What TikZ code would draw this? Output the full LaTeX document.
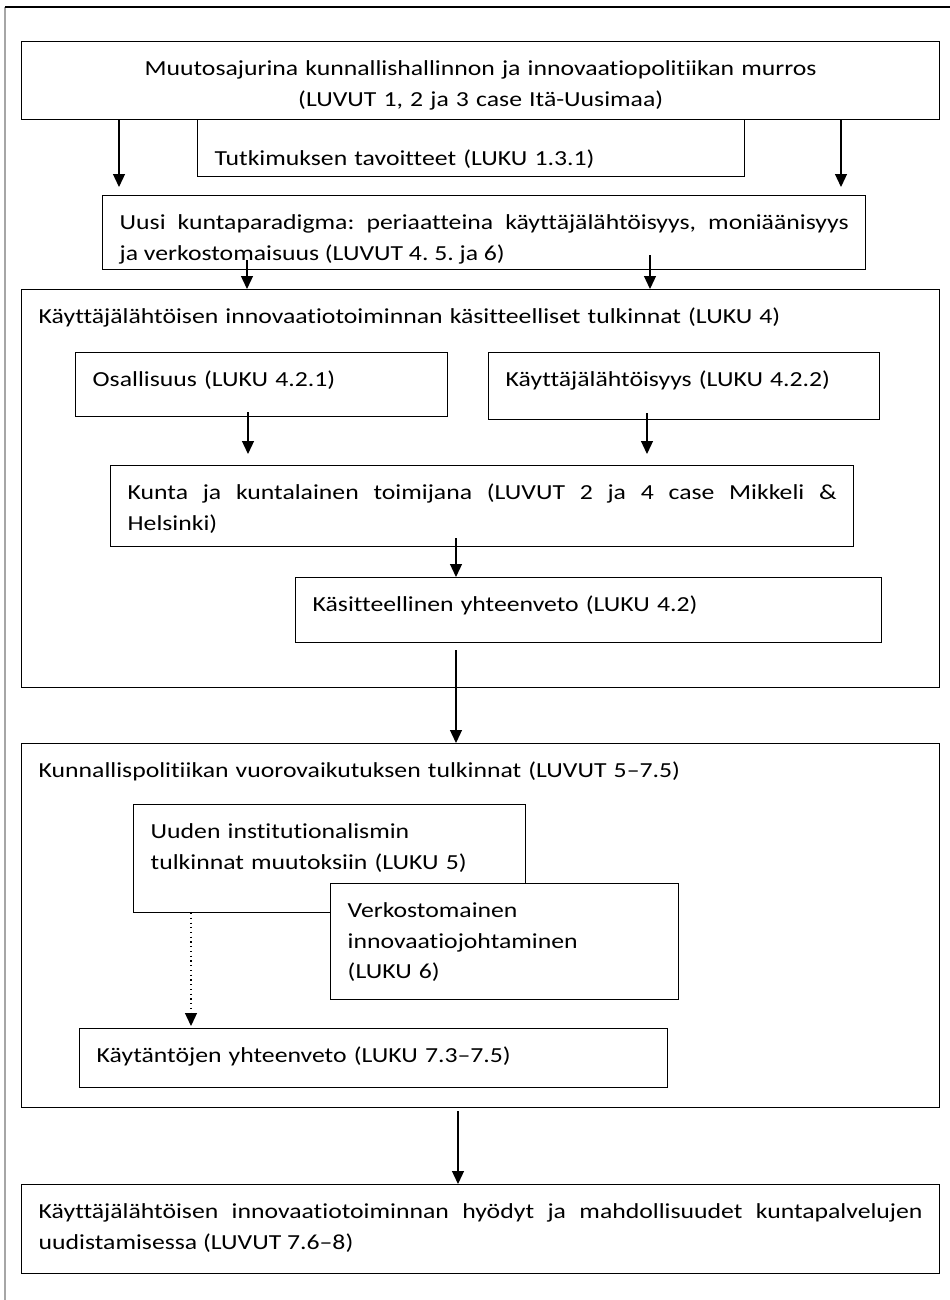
\documentclass[tikz,border=0pt]{standalone}
\usepackage{fontspec}
\setmainfont{Carlito}[FakeStretch=1.2,Ligatures=NoCommon]
\frenchspacing
\usetikzlibrary{arrows.meta}

\begin{document}
\begin{tikzpicture}[x=1cm,y=1cm,
  box/.style={draw,line width=0.8pt,fill=white,anchor=north west,inner xsep=0.34cm,inner ysep=0pt,text height=0.68cm,align=left,font=\fontsize{12.2}{17.4}\selectfont},
  arr/.style={line width=0.7pt,-{Triangle[width=0.24cm,length=0.26cm]}}]
\useasboundingbox (0,0) rectangle (19,-26);
\draw[gray!70,line width=0.6pt] (0.10,-0.14) -- (0.10,-26);
\draw[line width=0.8pt] (0.10,-0.14) -- (19,-0.14);
\node[box,align=center,text width=17.68cm,text depth=0.88cm] (murros) at (0.42,-0.82) {Muutosajurina kunnallishallinnon ja innovaatiopolitiikan murros\\(LUVUT 1, 2 ja 3 case Itä-Uusimaa)};
\node[box,text width=10.26cm,text height=0.92cm,text depth=0.22cm] (tavoitteet) at (3.94,-2.38) {Tutkimuksen tavoitteet (LUKU 1.3.1)};
\node[box,align=justify,text width=14.58cm,text depth=0.80cm] (uusi) at (2.04,-3.90) {Uusi kuntaparadigma: periaatteina käyttäjälähtöisyys, moniäänisyys\linebreak ja verkostomaisuus (LUVUT 4. 5. ja 6)};
\node[box,text width=17.68cm,text depth=7.28cm] (tulkinnat) at (0.42,-5.78) {Käyttäjälähtöisen innovaatiotoiminnan käsitteelliset tulkinnat (LUKU 4)};
\node[box,text width=6.76cm,text depth=0.60cm] (osallisuus) at (1.50,-7.04) {Osallisuus (LUKU 4.2.1)};
\node[box,text width=7.14cm,text depth=0.66cm] (kayttaja) at (9.76,-7.04) {Käyttäjälähtöisyys (LUKU 4.2.2)};
\node[box,align=justify,text width=14.18cm,text depth=0.94cm] (kunta) at (2.20,-9.30) {Kunta ja kuntalainen toimijana (LUVUT 2 ja 4 case Mikkeli \&\linebreak Helsinki)};
\node[box,text width=11.04cm,text depth=0.62cm] (kasitteet) at (5.90,-11.54) {Käsitteellinen yhteenveto (LUKU 4.2)};
\node[box,text width=17.68cm,text depth=6.60cm] (vuorovaikutus) at (0.42,-14.86) {Kunnallispolitiikan vuorovaikutuksen tulkinnat (LUVUT 5–7.5)};
\node[box,text width=7.16cm,text depth=1.48cm] (instituutiot) at (2.66,-16.08) {Uuden institutionalismin\\tulkinnat muutoksiin (LUKU 5)};
\node[box,text width=6.28cm,text depth=1.64cm] (verkosto) at (6.60,-17.66) {Verkostomainen\\innovaatiojohtaminen\\(LUKU 6)};
\node[box,text width=11.08cm,text depth=0.50cm] (kaytannot) at (1.58,-20.56) {Käytäntöjen yhteenveto (LUKU 7.3–7.5)};
\node[box,align=justify,text width=17.68cm,text depth=1.10cm] (hyodyt) at (0.42,-23.68) {Käyttäjälähtöisen innovaatiotoiminnan hyödyt ja mahdollisuudet kuntapalvelujen\linebreak uudistamisessa (LUVUT 7.6–8)};
\coordinate (m1) at (2.38,-2.38);
\coordinate (m2) at (16.82,-2.38);
\coordinate (u1) at (4.94,-5.20);
\coordinate (u2) at (13.00,-5.10);
\coordinate (o1) at (4.96,-8.24);
\coordinate (k1) at (12.94,-8.26);
\coordinate (t1) at (9.12,-10.76);
\coordinate (y1) at (9.12,-13.00);
\coordinate (i1) at (3.82,-18.26);
\coordinate (v1) at (9.16,-22.22);
\draw[arr,shorten >=0.16cm] (m1) -- (m1 |- uusi.north);
\draw[arr,shorten >=0.16cm] (m2) -- (m2 |- uusi.north);
\draw[arr] (u1) -- (u1 |- tulkinnat.north);
\draw[arr] (u2) -- (u2 |- tulkinnat.north);
\draw[arr,shorten >=0.22cm] (o1) -- (o1 |- kunta.north);
\draw[arr,shorten >=0.22cm] (k1) -- (k1 |- kunta.north);
\draw[arr] (t1) -- (t1 |- kasitteet.north);
\draw[arr] (y1) -- (y1 |- vuorovaikutus.north);
\draw[arr,dotted,shorten >=0.04cm] (i1) -- (i1 |- kaytannot.north);
\draw[arr] (v1) -- (v1 |- hyodyt.north);
\end{tikzpicture}
\end{document}
